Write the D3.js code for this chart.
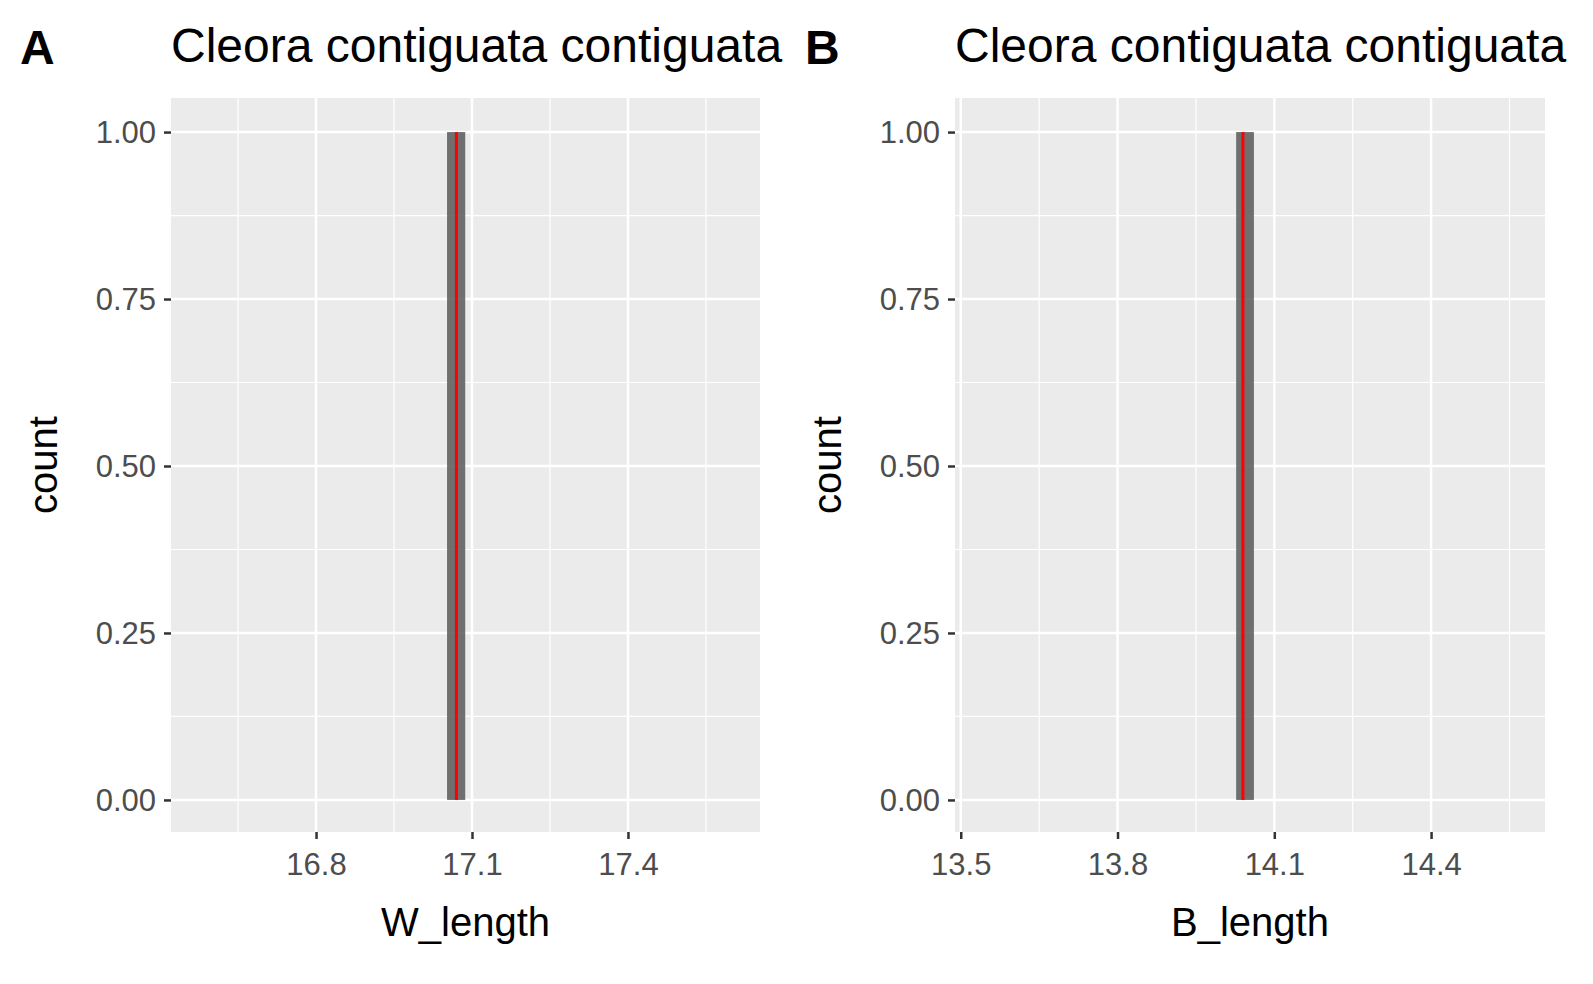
<!DOCTYPE html>
<html><head><meta charset="utf-8">
<script src="https://cdn.jsdelivr.net/npm/d3@7"></script>
<style>html,body{margin:0;background:#fff;overflow:hidden}svg{display:block}text{font-family:Arial,"Liberation Sans",sans-serif}</style>
</head><body>
<script>
const panelLabels = ["A", "B"];
const titles = ["Cleora contiguata contiguata", "Cleora contiguata contiguata"];
const xTitles = ["W_length", "B_length"];
const xDomains = [[16.521, 17.654], [13.489, 14.618]];
const xTicks = [[16.8, 17.1, 17.4], [13.5, 13.8, 14.1, 14.4]];
const xMinor = [[16.65, 16.95, 17.25, 17.55], [13.65, 13.95, 14.25, 14.55]];
const binLo = [17.052, 14.027];
const binHi = [17.087, 14.061];
const counts = [1, 1];
const means = [17.07, 14.04];
const yTicks = [0, 0.25, 0.5, 0.75, 1];
const yMinor = [0.125, 0.375, 0.625, 0.875];

const W = 1593, H = 984;
const svg = d3.select("body").append("svg").attr("width", W).attr("height", H);
const panels = [{x0: 171, x1: 760, lab: 20, titleClip: 788}, {x0: 955, x1: 1545, lab: 805, titleClip: 1593}];
const y = d3.scaleLinear().domain([-0.048, 1.051]).range([832, 98]);

panels.forEach((p, i) => {
  const g = svg.append("g");
  const x = d3.scaleLinear().domain(xDomains[i]).range([p.x0, p.x1]);
  g.append("rect").attr("x", p.x0).attr("y", 98).attr("width", p.x1 - p.x0).attr("height", 734).attr("fill", "#ebebeb");
  xMinor[i].forEach(v => g.append("line").attr("x1", x(v)).attr("x2", x(v)).attr("y1", 98).attr("y2", 832).attr("stroke", "#fff").attr("stroke-width", 1.2));
  yMinor.forEach(v => g.append("line").attr("x1", p.x0).attr("x2", p.x1).attr("y1", y(v)).attr("y2", y(v)).attr("stroke", "#fff").attr("stroke-width", 1.2));
  xTicks[i].forEach(v => g.append("line").attr("x1", x(v)).attr("x2", x(v)).attr("y1", 98).attr("y2", 832).attr("stroke", "#fff").attr("stroke-width", 2.5));
  yTicks.forEach(v => g.append("line").attr("x1", p.x0).attr("x2", p.x1).attr("y1", y(v)).attr("y2", y(v)).attr("stroke", "#fff").attr("stroke-width", 2.5));
  g.append("rect").attr("x", x(binLo[i])).attr("width", x(binHi[i]) - x(binLo[i]))
    .attr("y", y(counts[i])).attr("height", y(0) - y(counts[i])).attr("fill", "#595959").attr("opacity", 0.85);
  g.append("line").attr("x1", x(means[i])).attr("x2", x(means[i])).attr("y1", y(1)).attr("y2", y(0)).attr("stroke", "#ff0000").attr("stroke-width", 3);

  const xa = g.append("g").attr("transform", "translate(0,832)").call(d3.axisBottom(x).tickValues(xTicks[i]).tickSize(7).tickPadding(8).tickFormat(d3.format(".1f")));
  const ya = g.append("g").attr("transform", `translate(${p.x0},0)`).call(d3.axisLeft(y).tickValues(yTicks).tickSize(7).tickPadding(8).tickFormat(d3.format(".2f")));
  [xa, ya].forEach(a => {
    a.select(".domain").remove();
    a.selectAll("line").attr("stroke", "#333").attr("stroke-width", 2.5);
    a.selectAll("text").attr("fill", "#4d4d4d").style("font-size", "31px");
  });
  xa.selectAll("text").attr("dy", "0.9em");
  ya.selectAll("text").attr("dy", "0.35em");

  g.append("text").attr("x", (p.x0 + p.x1) / 2).attr("y", 936).attr("text-anchor", "middle").style("font-size", "40px").text(xTitles[i]);
  g.append("text").attr("transform", `translate(${p.x0 - 114},465) rotate(-90)`).attr("text-anchor", "middle").style("font-size", "40px").text("count");

  const cid = "clip" + i;
  svg.append("clipPath").attr("id", cid).append("rect").attr("x", 0).attr("y", 0).attr("width", p.titleClip).attr("height", 90);
  g.append("text").attr("x", p.x0).attr("y", 62).attr("clip-path", `url(#${cid})`).style("font-size", "48px").text(titles[i]);
  g.append("text").attr("x", p.lab).attr("y", 64).style("font-size", "48px").style("font-weight", "bold").text(panelLabels[i]);
});
</script>
</body></html>
